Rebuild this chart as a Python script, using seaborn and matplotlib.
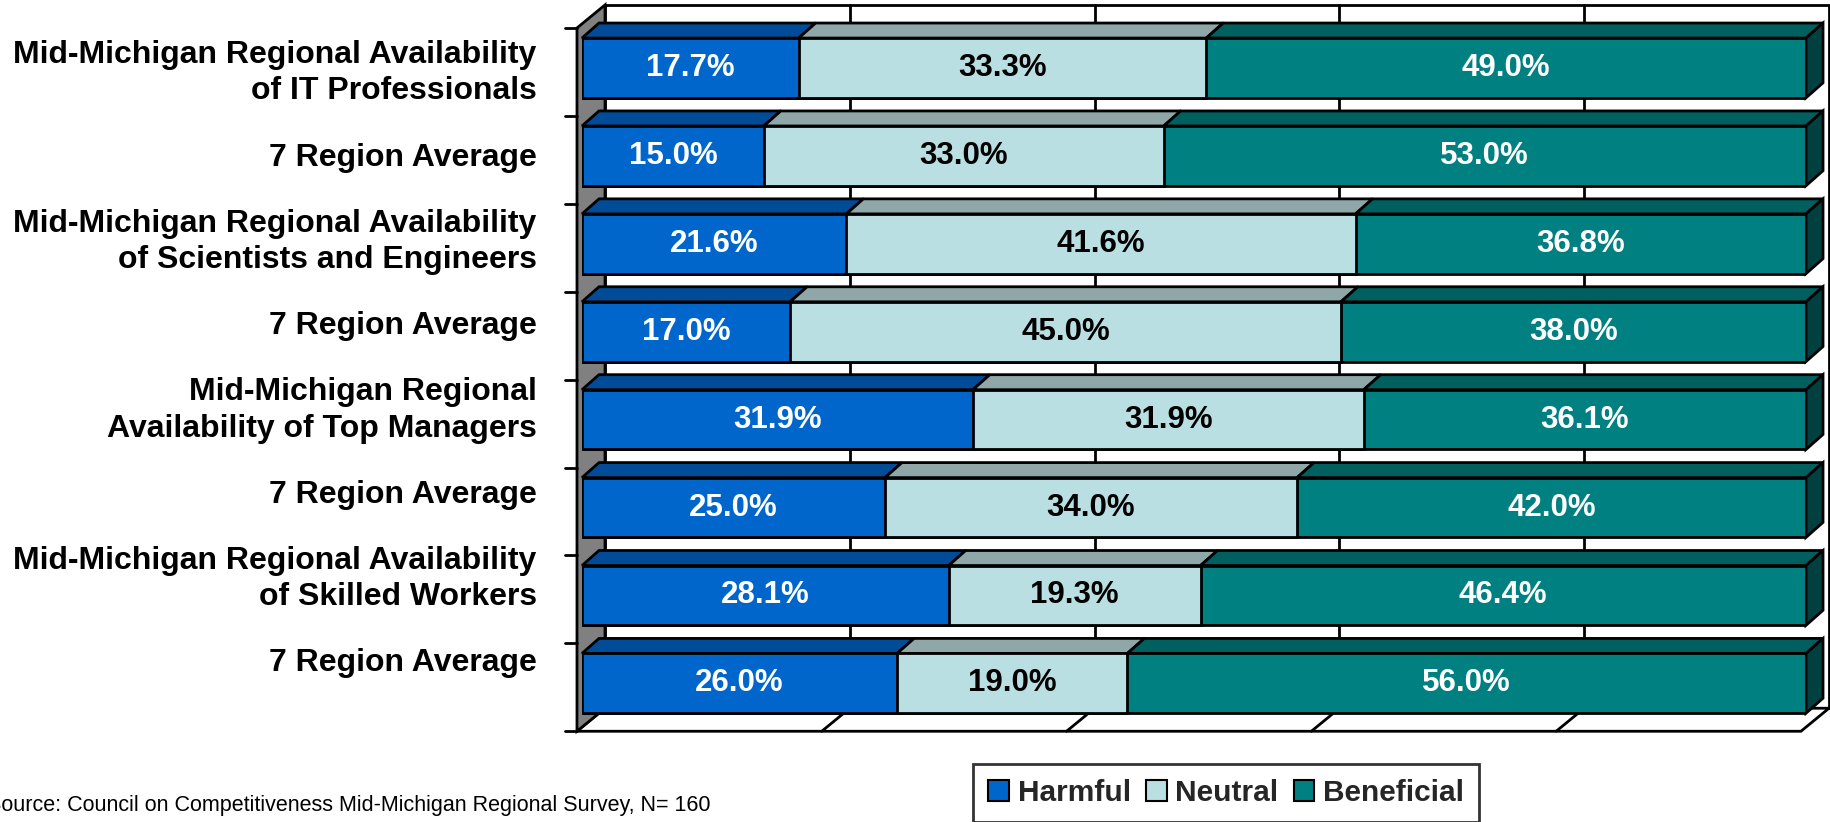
"""
Mid-Michigan regional survey - availability of talent (100% stacked 3D-style bars)
Output : out.png
"""

import numpy as np
import pandas as pd
import matplotlib
matplotlib.use("Agg")
import matplotlib.pyplot as plt
from matplotlib.patches import Polygon, Rectangle, Patch
import seaborn as sns

# ── Data ──────────────────────────────────────────────────────────────────────
categories = [
    "Mid-Michigan Regional Availability\nof IT Professionals",
    "7 Region Average",
    "Mid-Michigan Regional Availability\nof Scientists and Engineers",
    "7 Region Average",
    "Mid-Michigan Regional\nAvailability of Top Managers",
    "7 Region Average",
    "Mid-Michigan Regional Availability\nof Skilled Workers",
    "7 Region Average",
]
harmful    = [17.7, 15.0, 21.6, 17.0, 31.9, 25.0, 28.1, 26.0]
neutral    = [33.3, 33.0, 41.6, 45.0, 31.9, 34.0, 19.3, 19.0]
beneficial = [49.0, 53.0, 36.8, 38.0, 36.1, 42.0, 46.4, 56.0]
series     = ["Harmful", "Neutral", "Beneficial"]
source     = "Source: Council on Competitiveness Mid-Michigan Regional Survey, N= 160"

# ── Style ─────────────────────────────────────────────────────────────────────
FRONT = {"Harmful": "#0066CC", "Neutral": "#BADFE2", "Beneficial": "#008080"}
TOP   = {"Harmful": "#004C99", "Neutral": "#8FA7A9", "Beneficial": "#005F5F"}
SIDE  = "#004040"
WALL  = "#808080"
TXT   = {"Harmful": "white", "Neutral": "black", "Beneficial": "white"}
FONT  = "Liberation Sans"

sns.set_theme(style="white")
plt.rcParams["font.family"] = [FONT, "DejaVu Sans"]

# 3D geometry (data units: % across, category rows down)
BAR_H   = 0.68
BAR_D   = (1.39, -0.171)     # depth of each bar
SHIFT   = (-0.41, 0.045)     # front plane relative to bar front faces
WALL_D  = (2.29, -0.262)     # depth of walls / floor
LAB_PITCH, LAB_OFF = 0.959, 0.06   # category labels sit on the projected axis

# ── Build table (Excel 100% stacked -> normalise each row) ───────────────────
df = pd.DataFrame({"row": [str(i) for i in range(len(categories))],
                   "Harmful": harmful, "Neutral": neutral,
                   "Beneficial": beneficial})
tot = df[series].sum(axis=1)
for s in series:
    df[s + "_pct"] = df[s] / tot * 100
df["c1"] = df["Harmful_pct"]
df["c2"] = df["c1"] + df["Neutral_pct"]
df["c3"] = df["c2"] + df["Beneficial_pct"]

fig = plt.figure(figsize=(18.31, 8.22), dpi=100)
ax = fig.add_axes([582 / 1831, 1 - 727.3 / 822, 1224 / 1831, 703.3 / 822])

# ── Walls / floor ─────────────────────────────────────────────────────────────
fx0, fx1 = SHIFT[0], 100 + SHIFT[0]
fy0, fy1 = -0.5 + SHIFT[1], len(categories) - 0.5 + SHIFT[1]
bx0, by0 = fx0 + WALL_D[0], fy0 + WALL_D[1]
bx1, by1 = fx1 + WALL_D[0], fy1 + WALL_D[1]
kw = dict(edgecolor="black", linewidth=2, clip_on=False, joinstyle="miter")
ax.add_patch(Rectangle((bx0, by0), bx1 - bx0, by1 - by0, facecolor="white",
                       zorder=0.5, **kw))
for g in [20, 40, 60, 80]:
    ax.plot([fx0 + g + WALL_D[0]] * 2, [by0, by1], color="black", lw=2,
            zorder=0.6, clip_on=False)
ax.add_patch(Polygon([(fx0, fy1), (fx1, fy1), (bx1, by1), (bx0, by1)],
                     facecolor="white", zorder=0.7, **kw))
for g in [20, 40, 60, 80]:
    ax.plot([fx0 + g, fx0 + g + WALL_D[0]], [fy1, by1], color="black", lw=2,
            zorder=0.8, clip_on=False)
ax.add_patch(Polygon([(fx0, fy0), (bx0, by0), (bx0, by1), (fx0, fy1)],
                     facecolor=WALL, zorder=0.9, **kw))
# axis ticks on the front-left edge
for k in range(len(categories) + 1):
    ax.plot([fx0 - 0.95, fx0], [fy0 + k, fy0 + k], color="black", lw=2,
            clip_on=False, zorder=1)

# ── Bars: front faces (seaborn, stacked by overdrawing cumulative totals) ────
for col, s in zip(["c3", "c2", "c1"], series[::-1]):
    sns.barplot(data=df, x=col, y="row", orient="h", color=FRONT[s],
                saturation=1, width=BAR_H, edgecolor="black", linewidth=2,
                ax=ax, zorder=3)

# ── Bars: top and side faces ──────────────────────────────────────────────────
dx, dy = BAR_D
for i, r in df.iterrows():
    yt = i - BAR_H / 2
    lefts = [0, r["c1"], r["c2"]]
    rights = [r["c1"], r["c2"], r["c3"]]
    for s, l, rr in zip(series, lefts, rights):
        ax.add_patch(Polygon([(l, yt), (rr, yt), (rr + dx, yt + dy), (l + dx, yt + dy)],
                             facecolor=TOP[s], zorder=2, **kw))
    ax.add_patch(Polygon([(r["c3"], yt), (r["c3"], yt + BAR_H),
                          (r["c3"] + dx, yt + BAR_H + dy), (r["c3"] + dx, yt + dy)],
                         facecolor=SIDE, zorder=2, **kw))
    # value labels
    for s, l, rr in zip(series, lefts, rights):
        ax.text((l + rr) / 2, i, f"{r[s]:.1f}%", ha="center", va="center",
                color=TXT[s], fontsize=22.5, fontweight="bold", zorder=5)

# ── Category labels ───────────────────────────────────────────────────────────
for i, lab in enumerate(categories):
    ax.text(-3.7, LAB_OFF + i * LAB_PITCH, lab, ha="right", va="center",
            fontsize=23, fontweight="bold", color="black", linespacing=1.27,
            clip_on=False)

ax.set_xlim(0, 100)
ax.set_ylim(len(categories) - 0.5, -0.5)
ax.set_xticks([])
ax.set_yticks([])
ax.set_xlabel("")
ax.set_ylabel("")
for sp in ax.spines.values():
    sp.set_visible(False)
ax.patch.set_alpha(0)

# ── Legend + source ───────────────────────────────────────────────────────────
handles = [Patch(facecolor=FRONT[s], edgecolor="black", linewidth=1.5, label=s)
           for s in series]
leg = fig.legend(handles=handles, loc="center", bbox_to_anchor=(0.6696, 0.0353),
                 ncol=3, frameon=True, fancybox=False, handlelength=0.7,
                 handleheight=0.7, handletextpad=0.3, columnspacing=0.5,
                 borderpad=0.5, prop={"family": FONT, "weight": "bold", "size": 21.5})
leg.get_frame().set_edgecolor("black")
leg.get_frame().set_linewidth(2)

fig.text(-0.007, 1 - 811 / 822, source, ha="left", va="baseline",
         fontsize=15.5, color="black")

fig.savefig("out.png", dpi=100)
